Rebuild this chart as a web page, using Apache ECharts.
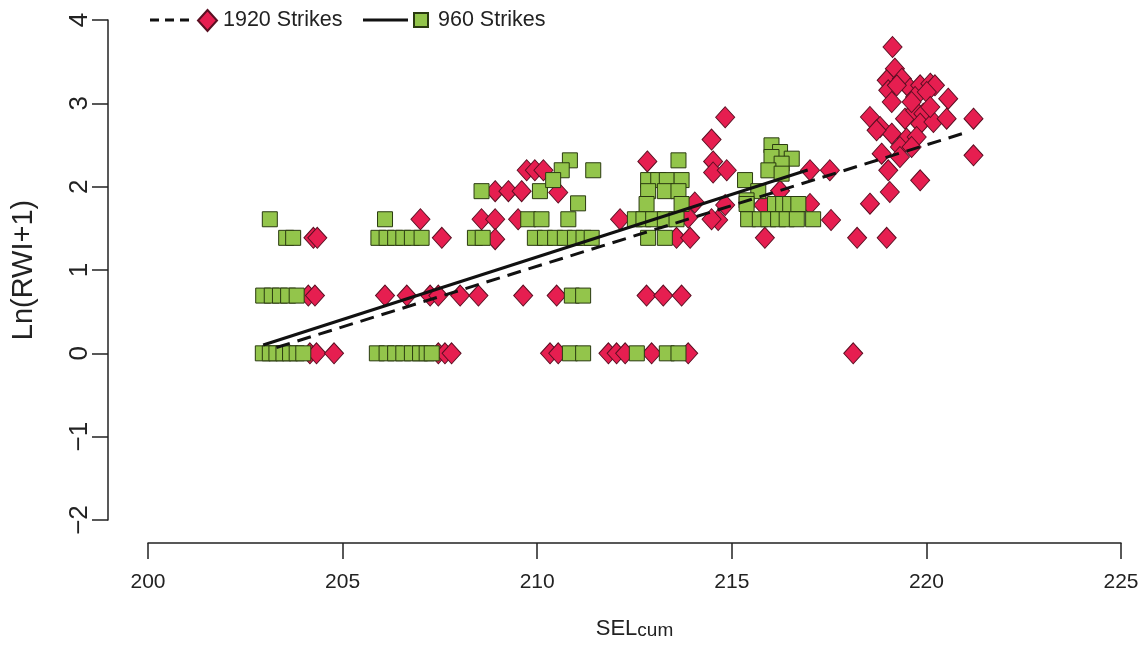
<!DOCTYPE html>
<html>
<head>
<meta charset="utf-8">
<script src="https://cdn.jsdelivr.net/npm/echarts@6/dist/echarts.min.js"></script>
<style>
html,body{margin:0;padding:0;background:#fff;}
#chart{width:1144px;height:650px;}
</style>
</head>
<body>
<div id="chart"></div>
<script>
// ---- data ----
var xTicks = [200, 205, 210, 215, 220, 225];
var yTicks = [-2, -1, 0, 1, 2, 3, 4];

var strikes1920 = [
  [204.25,1.386],[204.35,1.386],[204.12,0.693],[204.29,0.693],
  [204.16,0],[204.33,0],[204.78,0],
  [207.0,1.609],[207.55,1.386],
  [206.09,0.693],[206.65,0.693],[207.25,0.693],[207.46,0.693],[208.02,0.693],[208.49,0.693],[209.64,0.693],[210.5,0.693],
  [212.81,0.693],[213.24,0.693],[213.71,0.693],
  [207.46,0],[207.63,0],[207.8,0],[210.33,0],[210.54,0],
  [211.83,0],[212.04,0],[212.26,0],[212.94,0],[213.88,0],[218.12,0],
  [208.92,1.946],[209.26,1.946],[209.6,1.946],[210.54,1.93],
  [209.73,2.197],[209.94,2.197],[210.16,2.197],
  [208.57,1.609],[208.92,1.609],[209.51,1.609],[208.92,1.37],
  [212.83,2.303],[212.13,1.609],[213.88,1.63],[214.05,1.81],
  [213.58,1.386],[213.93,1.386],
  [214.48,2.565],[214.52,2.303],[214.52,2.17],[214.87,2.197],[214.83,2.833],
  [214.65,1.6],[214.48,1.609],[214.83,1.78],
  [216.24,1.95],[217.01,2.197],[217.52,2.197],[217.01,1.792],[215.81,1.78],
  [217.55,1.6],[215.85,1.386],[218.22,1.386],[218.98,1.386],[218.55,1.796],
  [219.13,3.676],[219.19,3.416],[218.98,3.276],[219.37,3.296],[219.02,3.156],
  [219.58,3.176],[219.84,3.216],[220.1,3.236],[220.22,3.216],[219.11,3.016],
  [219.71,3.076],[220.01,3.136],[220.56,3.056],[218.55,2.836],[218.81,2.716],
  [219.11,2.636],[219.45,2.816],[219.71,2.916],[219.92,2.876],[219.84,2.756],
  [220.18,2.776],[220.52,2.816],[221.21,2.816],[219.49,2.576],[219.75,2.596],
  [219.32,2.476],[219.62,2.476],[218.85,2.396],[219.32,2.356],[221.21,2.376],
  [219.02,2.196],[219.84,2.076],[219.06,1.936],[218.72,2.676],[219.24,3.216],
  [219.62,3.016],[220.1,2.956]
];

var strikes960 = [
  [203.13,1.609],[203.55,1.386],[203.73,1.386],
  [202.96,0.693],[203.18,0.693],[203.39,0.693],[203.6,0.693],[203.82,0.693],
  [202.95,0],[203.13,0],[203.3,0],[203.48,0],[203.65,0],[203.82,0],[203.99,0],
  [206.09,1.609],
  [205.92,1.386],[206.13,1.386],[206.35,1.386],[206.56,1.386],[206.78,1.386],[207.03,1.386],
  [205.88,0],[206.13,0],[206.35,0],[206.56,0],[206.78,0],[206.99,0],[207.16,0],[207.29,0],
  [208.4,1.386],[208.6,1.386],[208.57,1.946],[210.07,1.946],
  [210.84,2.316],[210.63,2.197],[210.41,2.079],[211.44,2.197],[211.05,1.8],
  [209.77,1.609],[210.11,1.609],[210.8,1.609],
  [209.94,1.386],[210.2,1.386],[210.46,1.386],[210.71,1.386],[210.97,1.386],[211.19,1.386],[211.4,1.386],
  [210.89,0.693],[211.18,0.693],
  [210.84,0],[211.18,0],[212.56,0],[213.33,0],[213.63,0],
  [213.63,2.316],[212.85,2.079],[213.11,2.079],[213.33,2.079],[213.71,2.079],
  [212.85,1.946],[213.28,1.946],[213.63,1.946],[212.81,1.792],[213.71,1.792],
  [212.51,1.609],[212.73,1.609],[212.98,1.609],[213.28,1.609],[213.58,1.609],
  [212.85,1.386],[213.28,1.386],
  [216.02,2.496],[216.24,2.416],[216.02,2.356],[216.54,2.336],[216.28,2.276],[215.94,2.196],[216.28,2.156],
  [215.34,2.079],[215.68,1.946],[215.38,1.836],
  [215.38,1.792],[216.11,1.792],[216.32,1.792],[216.5,1.792],[216.71,1.792],
  [215.42,1.609],[215.72,1.609],[215.94,1.609],[216.19,1.609],[216.41,1.609],[216.67,1.609],[217.09,1.609]
];

var fit1920 = [[203.3, 0.07], [220.95, 2.64]];
var fit960 = [[202.96, 0.1], [216.95, 2.2]];

var names = ['1920 Strikes', '960 Strikes'];

// ---- styles ----
var FONT = '"Liberation Sans", Arial, Helvetica, sans-serif';
var AX = '#222';
var RED = '#E61E50', RED_B = '#5a0f22';
var GRN = '#93C54B', GRN_B = '#2a3a10';

function minusFmt(v) { return String(v).replace('-', '\u2212'); }

var chart = echarts.init(document.getElementById('chart'), null, {renderer: 'canvas'});
chart.setOption({
  animation: false,
  backgroundColor: '#fff',
  grid: {left: 148, right: 23, top: 20, bottom: 130, containLabel: false},
  legend: [
    {data: [names[0]], left: 197, top: 9, padding: 0, itemWidth: 19, itemHeight: 21,
     selectedMode: false, textStyle: {fontSize: 21.5, fontFamily: FONT, color: '#222', padding: [0,0,0,1]}},
    {data: [names[1]], left: 413, top: 9, padding: 0, itemWidth: 14, itemHeight: 14,
     selectedMode: false, textStyle: {fontSize: 21.5, fontFamily: FONT, color: '#222', padding: [0,0,0,5]}}
  ],
  graphic: [
    {type: 'line', shape: {x1: 150, y1: 20, x2: 193, y2: 20}, style: {stroke: '#111', lineWidth: 3, lineDash: [9, 6]}},
    {type: 'line', shape: {x1: 363, y1: 20, x2: 408, y2: 20}, style: {stroke: '#111', lineWidth: 3}}
  ],
  xAxis: {
    type: 'value', min: xTicks[0], max: xTicks[xTicks.length - 1], interval: 5, offset: 23,
    axisLine: {show: true, onZero: false, lineStyle: {color: AX, width: 1.5}},
    axisTick: {show: true, length: 16, lineStyle: {color: AX, width: 1.5}},
    axisLabel: {margin: 29, fontSize: 21, color: '#222', fontFamily: FONT},
    splitLine: {show: false},
    name: '{a|SEL}{b|cum}', nameLocation: 'middle', nameGap: 71,
    nameTextStyle: {color: '#222', fontFamily: FONT,
      rich: {a: {fontSize: 22, fontFamily: FONT, color: '#222', verticalAlign: 'bottom', lineHeight: 26},
             b: {fontSize: 19, fontFamily: FONT, color: '#222', verticalAlign: 'bottom', lineHeight: 26, padding: [0,0,0,0]}}}
  },
  yAxis: {
    type: 'value', min: yTicks[0], max: yTicks[yTicks.length - 1], interval: 1, offset: 40,
    axisLine: {show: true, onZero: false, lineStyle: {color: AX, width: 1.5}},
    axisTick: {show: true, length: 16, lineStyle: {color: AX, width: 1.5}},
    axisLabel: {margin: 15, rotate: 90, fontSize: 26, color: '#222', fontFamily: FONT, formatter: minusFmt},
    splitLine: {show: false},
    name: 'Ln(RWI+1)', nameLocation: 'middle', nameGap: 70,
    nameTextStyle: {fontSize: 29, color: '#222', fontFamily: FONT}
  },
  series: [
    {name: names[0], type: 'scatter', data: strikes1920, symbol: 'diamond', symbolSize: [19, 21],
     itemStyle: {color: RED, borderColor: RED_B, borderWidth: 1, opacity: 1}, z: 2},
    {name: names[1], type: 'scatter', data: strikes960, symbol: 'rect', symbolSize: 15,
     itemStyle: {color: GRN, borderColor: GRN_B, borderWidth: 1, opacity: 1}, z: 3},
    {name: 'fit1920', type: 'line', data: fit1920, symbol: 'none', showSymbol: false, silent: true,
     lineStyle: {color: '#111', width: 3, type: [14, 8]}, z: 5},
    {name: 'fit960', type: 'line', data: fit960, symbol: 'none', showSymbol: false, silent: true,
     lineStyle: {color: '#111', width: 3, type: 'solid'}, z: 5}
  ]
});
</script>
</body>
</html>
